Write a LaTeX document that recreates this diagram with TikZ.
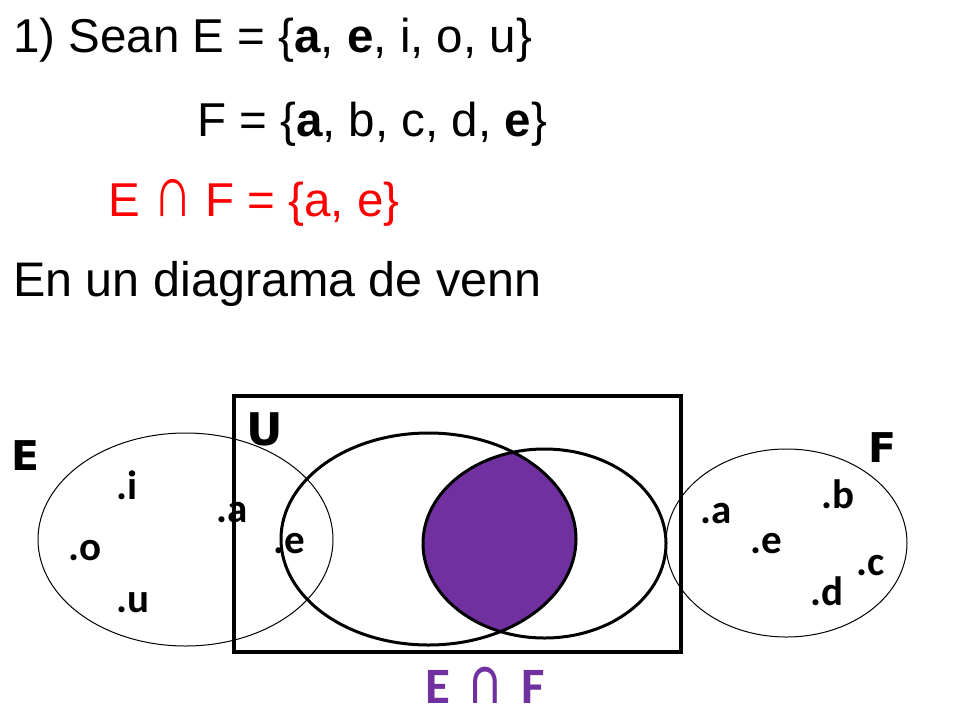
\documentclass[tikz,border=0pt]{standalone}
\usepackage{fontspec}
\setmainfont{Liberation Sans}
\newfontfamily\labelFont{Carlito}
\newfontfamily\setNameFont{DejaVu Sans}
\definecolor{lensPurple}{HTML}{7030A0}
\definecolor{resultRed}{HTML}{FF0000}
\newcommand{\lineSize}[0]{\fontsize{47.5}{57}\selectfont}
\newcommand{\elemSize}[0]{\fontsize{41}{48}\selectfont}
\newcommand{\tallCap}[0]{\scalebox{1.15}[1.55]{∩}}

\begin{document}
\begin{tikzpicture}[x=1pt, y=-1pt]
  \tikzset{every node/.style={inner sep=0pt, anchor=base west},
    statement/.style={font=\lineSize},
    element/.style={font={\labelFont\bfseries\elemSize}},
    setName/.style={font={\setNameFont\bfseries\elemSize}},
    thinSet/.style={line width=1pt},
    thickSet/.style={line width=3pt}}
  \useasboundingbox (0,0) rectangle (960,720);
  % sets
  \node[statement] (defE) at (13,52) {1) Sean E = \{\textbf{a}, \textbf{e}, i, o, u\}};
  \node[statement] (defF) at (197,136) {F = \{\textbf{a}, b, c, d, \textbf{e}\}};
  \node[statement, text=resultRed] (defEF) at (108,216) {E \tallCap{} F = \{a, e\}};
  \node[statement, font={\fontsize{48.5}{58}\selectfont}] (venn) at (13,296) {En un diagrama de venn};
  % universe
  \draw[line width=3.5pt] (234,396) rectangle (681,652);
  \node[setName, font={\setNameFont\bfseries\fontsize{45}{52}\selectfont}] (nameU) at (246,445) {U};
  % E alone
  \draw[thinSet] (185.5,539.5) ellipse [x radius=147.5pt, y radius=106.5pt];
  \node[setName] (nameE) at (11,470) {E};
  \node[element] (eI) at (116,499) {.i};
  \node[element] (eO) at (68,560) {.o};
  \node[element] (eU) at (116,612) {.u};
  \node[element] (eA) at (216,522) {.a};
  \node[element] (eE) at (273,553) {.e};
  % F alone
  \draw[thinSet] (786.5,543) ellipse [x radius=120.5pt, y radius=94pt];
  \node[setName] (nameF) at (868,462) {F};
  \node[element] (fA) at (700,523) {.a};
  \node[element] (fE) at (750,553) {.e};
  \node[element] (fB) at (821,508) {.b};
  \node[element] (fC) at (856,575) {.c};
  \node[element] (fD) at (810,605) {.d};
  % intersection
  \begin{scope}
    \clip (428.5,539) ellipse [x radius=147.5pt, y radius=106pt];
    \fill[lensPurple] (544.5,543.5) ellipse [x radius=121.5pt, y radius=94.5pt];
  \end{scope}
  \draw[thickSet] (428.5,539) ellipse [x radius=147.5pt, y radius=106pt];
  \draw[thickSet] (544.5,543.5) ellipse [x radius=121.5pt, y radius=94.5pt];
  \node[text=lensPurple, font={\labelFont\bfseries\fontsize{51}{60}\selectfont}] (nameEF) at (425,703) {E\hspace{0.35em}\scalebox{1}[1.35]{∩}\hspace{0.35em}F};
\end{tikzpicture}
\end{document}
